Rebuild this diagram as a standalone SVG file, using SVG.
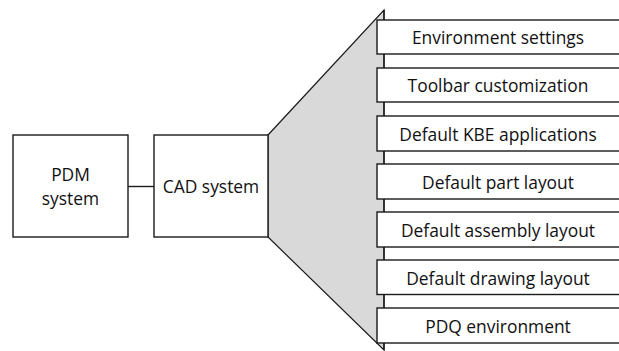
<svg xmlns="http://www.w3.org/2000/svg" width="619" height="351" viewBox="0 0 619 351">
<style>
.box{fill:#fff;stroke:#1a1a1a;stroke-width:1.4}
.t{font-family:"Open Sans","Liberation Sans",sans-serif;font-size:17.4px;fill:#111;text-anchor:middle}
.ln{stroke:#1a1a1a;stroke-width:1.4;fill:none}
</style>
<rect width="619" height="351" fill="#fff"/>
<g id="fan">
<polygon points="268,135 384,10 384,350 268,237" fill="#d9d9d9" stroke="#1a1a1a" stroke-width="1.2"/>
</g>
<g id="connectors">
<line class="ln" x1="128" y1="186.5" x2="154" y2="186.5"/>
<line class="ln" x1="384" y1="10" x2="384" y2="350"/>
</g>
<g id="pdm">
<rect class="box" x="13" y="135" width="115" height="102"/>
<text class="t" x="70.5" y="181">PDM</text>
<text class="t" x="70.5" y="205">system</text>
</g>
<g id="cad">
<rect class="box" x="154" y="135" width="114" height="102"/>
<text class="t" x="211" y="193">CAD system</text>
</g>
<g id="env">
<rect class="box" x="377" y="20" width="250" height="34"/>
<text class="t" x="498" y="44">Environment settings</text>
</g>
<g id="toolbar">
<rect class="box" x="377" y="68" width="250" height="34"/>
<text class="t" x="498" y="92">Toolbar customization</text>
</g>
<g id="kbe">
<rect class="box" x="377" y="116" width="250" height="35"/>
<text class="t" x="498" y="140.5">Default KBE applications</text>
</g>
<g id="part">
<rect class="box" x="377" y="164" width="250" height="35"/>
<text class="t" x="498" y="188.5">Default part layout</text>
</g>
<g id="assembly">
<rect class="box" x="377" y="212" width="250" height="35"/>
<text class="t" x="498" y="236.5">Default assembly layout</text>
</g>
<g id="drawing">
<rect class="box" x="377" y="260" width="250" height="34.5"/>
<text class="t" x="498" y="284.5">Default drawing layout</text>
</g>
<g id="pdq">
<rect class="box" x="377" y="308" width="250" height="35"/>
<text class="t" x="498" y="332.5">PDQ environment</text>
</g>
</svg>
